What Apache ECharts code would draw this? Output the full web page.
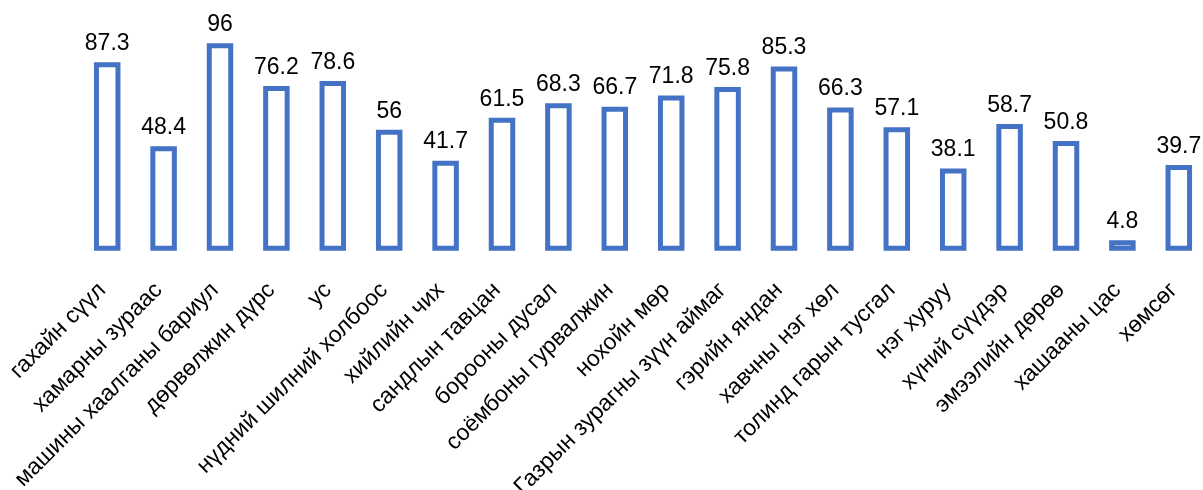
<!DOCTYPE html>
<html>
<head>
<meta charset="utf-8">
<script src="https://cdn.jsdelivr.net/npm/echarts@6/dist/echarts.min.js"></script>
<style>
html,body{margin:0;padding:0;background:#fff;}
#chart{width:1203px;height:490px;}
</style>
</head>
<body>
<div id="chart"></div>
<script>
const categories = [
  'гахайн сүүл', 'хамарны зураас', 'машины хаалганы бариул', 'дөрвөлжин дүрс', 'ус',
  'нүдний шилний холбоос', 'хийлийн чих', 'сандлын тавцан', 'борооны дусал', 'соёмбоны гурвалжин',
  'нохойн мөр', 'Газрын зурагны зүүн аймаг', 'гэрийн яндан', 'хавчны нэг хөл', 'толинд гарын тусгал',
  'нэг хуруу', 'хүний сүүдэр', 'эмээлийн дөрөө', 'хашааны цас', 'хөмсөг'
];
const values = [87.3, 48.4, 96, 76.2, 78.6, 56, 41.7, 61.5, 68.3, 66.7, 71.8, 75.8, 85.3, 66.3, 57.1, 38.1, 58.7, 50.8, 4.8, 39.7];

const chart = echarts.init(document.getElementById('chart'), null, {renderer: 'canvas'});
chart.setOption({
  animation: false,
  grid: {left: 79, top: 34.7, width: 1128, height: 216, containLabel: false, outerBoundsMode: 'none'},
  xAxis: {
    type: 'category',
    data: categories,
    axisLine: {show: false},
    axisTick: {show: false},
    axisLabel: {
      rotate: 45,
      interval: 0,
      margin: 31,
      padding: [0, 7, 0, 0],
      color: '#000',
      fontSize: 23,
      fontFamily: 'Liberation Sans, Arial, sans-serif'
    }
  },
  yAxis: {
    type: 'value',
    min: 0,
    max: 100,
    show: false,
    splitLine: {show: false}
  },
  series: [{
    type: 'bar',
    data: values,
    barWidth: 26.5,
    itemStyle: {color: '#ffffff', borderColor: '#4472C4', borderWidth: 5},
    label: {
      show: true,
      position: 'top',
      distance: 7,
      color: '#000',
      fontSize: 23,
      fontFamily: 'Liberation Sans, Arial, sans-serif'
    }
  }]
});
</script>
</body>
</html>
